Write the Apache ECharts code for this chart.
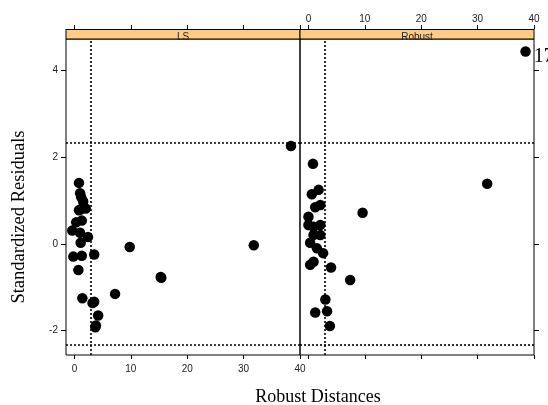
<!DOCTYPE html>
<html>
<head>
<meta charset="utf-8">
<script src="https://cdn.jsdelivr.net/npm/echarts@6/dist/echarts.min.js"></script>
<style>
	html, body { margin:0; padding:0; background:#fff; }
	#main { width:548px; height:405px; }
</style>
</head>
<body>
<div id="main"></div>
<script>
//LS 面板的点
var lsDist  = [0.8, 1.0, 1.2, 1.55, 1.1, 2.0, 0.8, 1.3, 0.3, -0.4, 1.0, 2.4, 1.1, -0.2, 1.3, 3.5, 0.7, 9.8, 31.8, 15.3, 15.4, 7.2, 1.4, 3.2, 3.5, 4.2, 3.8, 3.7, 38.4];
var lsResid = [1.41, 1.17, 1.08, 0.98, 0.80, 0.82, 0.78, 0.54, 0.50, 0.31, 0.26, 0.16, 0.03, -0.29, -0.27, -0.24, -0.60, -0.07, -0.03, -0.76, -0.78, -1.15, -1.25, -1.36, -1.33, -1.65, -1.88, -1.92, 2.26];

//Robust 面板的点
var robDist  = [0.8, 0.6, 1.8, 1.2, 2.1, 0.0, 0.0, 0.9, 2.1, 0.9, 2.1, 0.3, 1.5, 2.6, 0.9, 0.3, 4.0, 7.4, 3.0, 1.2, 3.3, 3.8, 9.6, 31.7, 38.5];
var robResid = [1.85, 1.15, 1.25, 0.85, 0.90, 0.63, 0.44, 0.40, 0.44, 0.21, 0.21, 0.03, -0.10, -0.21, -0.41, -0.48, -0.54, -0.83, -1.28, -1.58, -1.55, -1.89, 0.72, 1.39, 4.44];
var robLabels = ['', '', '', '', '', '', '', '', '', '', '', '', '', '', '', '', '', '', '', '', '', '', '', '', '17'];

//刻度和参考线
var xTicks = [0, 10, 20, 30, 40];
var yTicks = [-2, 0, 2, 4];
var residCut = [2.33, -2.33];
var distCut = 2.95;
var panelNames = ['LS', 'Robust'];

function pairs(xs, ys, labels)
{
	var out = [];
	for (var i = 0; i < xs.length; i++) {
		var item = { value: [xs[i], ys[i]] };
		if (labels && labels[i]) {
			item.label = {
				show: true, position: 'right', formatter: labels[i],
				fontFamily: 'Liberation Serif', fontSize: 20, color: '#000', distance: 3, offset: [0, 5]
			};
		}
		out.push(item);
	}
	return out;
}

function xAx( grid, pos, showLabel )
{
	return {
		type: 'value', gridIndex: grid, position: pos,
		min: -1.5, max: 40,
		offset: pos == 'top' ? 10 : 0,
		splitLine: { show: false },
		axisLine: { show: pos == 'top', onZero: false, lineStyle: { color: '#000' } },
		axisTick: { show: true, inside: false, length: 4, customValues: xTicks, lineStyle: { color: '#000' } },
		axisLabel: {
			show: showLabel, customValues: xTicks, margin: pos == 'top' ? 5 : 9,
			fontFamily: 'Liberation Sans', fontSize: 10, color: '#222'
		}
	};
}

function yAx( grid, pos, showLabel )
{
	return {
		type: 'value', gridIndex: grid, position: pos,
		min: -2.56, max: 4.73,
		splitLine: { show: false },
		axisLine: { show: false, onZero: false },
		axisTick: { show: true, length: 5, customValues: yTicks, lineStyle: { color: '#000' } },
		axisLabel: {
			show: showLabel, customValues: yTicks, margin: 8,
			fontFamily: 'Liberation Sans', fontSize: 10, color: '#222'
		}
	};
}

//虚线参考线
function cutLines()
{
	return {
		silent: true, symbol: 'none',
		label: { show: false },
		lineStyle: { color: '#000', type: [2, 2], width: 1.6, opacity: 1 },
		data: [ { yAxis: residCut[0] }, { yAxis: residCut[1] }, { xAxis: distCut } ]
	};
}

function strip( left, name )
{
	return {
		type: 'group',
		children: [
			{ type: 'rect', shape: { x: left, y: 29.5, width: 234, height: 9.5 },
			  style: { fill: '#ffcc88', stroke: '#000', lineWidth: 1 }, z: 10 },
			{ type: 'text', x: left + 117, y: 37.5,
			  style: { text: name, fill: '#222', font: '10px "Liberation Sans"', textAlign: 'center', textVerticalAlign: 'middle' }, z: 11 }
		]
	};
}

var myChart = echarts.init(document.getElementById('main'), null, { renderer: 'canvas' });

var option = {
	backgroundColor: '#fff',
	animation: false,
	grid: [
		{ left: 66, top: 39, width: 234, height: 316, show: true, borderColor: '#000', borderWidth: 1 },
		{ left: 300, top: 39, width: 234, height: 316, show: true, borderColor: '#000', borderWidth: 1 }
	],
	xAxis: [
		xAx(0, 'bottom', true),
		xAx(0, 'top', false),
		xAx(1, 'bottom', false),
		xAx(1, 'top', true)
	],
	yAxis: [
		yAx(0, 'left', true),
		yAx(1, 'right', false)
	],
	graphic: [
		strip(66, panelNames[0]),
		strip(300, panelNames[1]),
		{ type: 'text', x: 19, y: 217, rotation: Math.PI / 2,
		  style: { text: 'Standardized Residuals', fill: '#000', font: '18.5px "Liberation Serif"', textAlign: 'center', textVerticalAlign: 'middle' } },
		{ type: 'text', x: 318, y: 397,
		  style: { text: 'Robust Distances', fill: '#000', font: '18px "Liberation Serif"', textAlign: 'center', textVerticalAlign: 'middle' } }
	],
	series: [
		{
			name: panelNames[0], type: 'scatter', xAxisIndex: 0, yAxisIndex: 0,
			symbolSize: 10.5, itemStyle: { color: '#000', opacity: 1 },
			data: pairs(lsDist, lsResid),
			markLine: cutLines()
		},
		{
			name: panelNames[1], type: 'scatter', xAxisIndex: 3, yAxisIndex: 1,
			symbolSize: 10.5, itemStyle: { color: '#000', opacity: 1 },
			data: pairs(robDist, robResid, robLabels),
			markLine: cutLines()
		}
	]
};

myChart.setOption(option);
</script>
</body>
</html>
